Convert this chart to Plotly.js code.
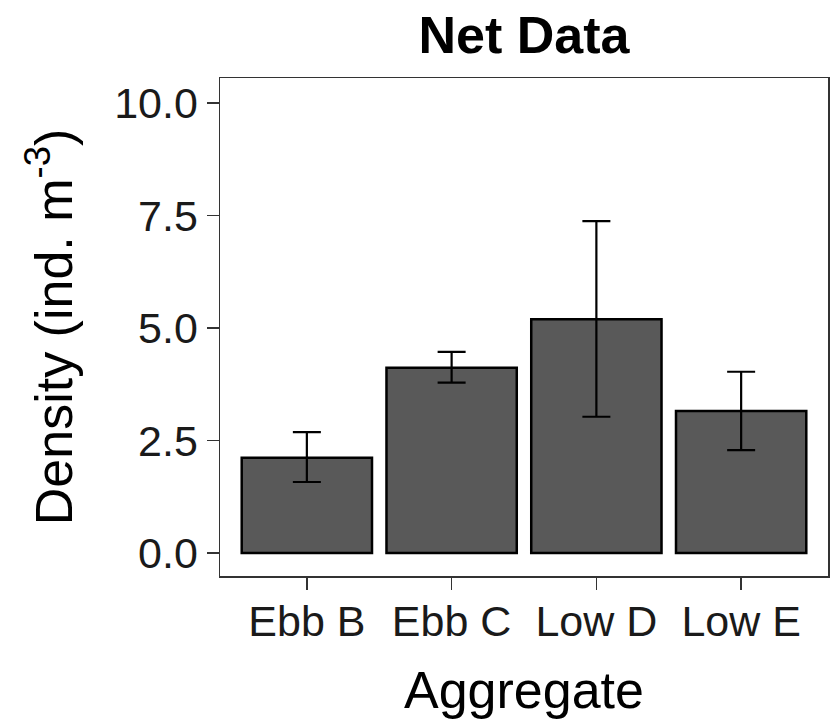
<!DOCTYPE html>
<html>
<head>
<meta charset="utf-8">
<script src="https://cdn.plot.ly/plotly-3.0.1.min.js"></script>
<style>html,body{margin:0;padding:0;background:#fff;}#chart{width:838px;height:721px;}</style>
</head>
<body>
<div id="chart"></div>
<script>
const categories = ["Ebb B", "Ebb C", "Low D", "Low E"];
const density = [2.12, 4.12, 5.2, 3.16];
const upper = [2.69, 4.47, 7.38, 4.03];
const lower = [1.58, 3.79, 3.03, 2.29];
const yTickVals = [0, 2.5, 5, 7.5, 10];
const yTickText = ["0.0", "2.5", "5.0", "7.5", "10.0"];

const font = "Liberation Sans, Arial, sans-serif";

const trace = {
  type: "bar",
  x: categories,
  y: density,
  width: 0.9,
  marker: { color: "#595959", line: { color: "#000000", width: 2.5 } },
  error_y: {
    type: "data",
    symmetric: false,
    array: density.map((d, i) => upper[i] - d),
    arrayminus: density.map((d, i) => d - lower[i]),
    color: "#000000",
    thickness: 2.2,
    width: 14
  },
  hoverinfo: "none"
};

const layout = {
  width: 838,
  height: 721,
  margin: { l: 220, r: 10, t: 78, b: 145 },
  paper_bgcolor: "#ffffff",
  plot_bgcolor: "#ffffff",
  showlegend: false,
  font: { family: font, color: "#000000" },
  title: {
    text: "<b>Net Data</b>",
    font: { family: font, size: 52, color: "#000000" },
    xref: "paper", x: 0.5, xanchor: "center",
    yref: "container", y: 1 - 35 / 721, yanchor: "middle"
  },
  xaxis: {
    type: "category",
    range: [-0.6, 3.6],
    showgrid: false,
    zeroline: false,
    showline: true,
    mirror: true,
    linecolor: "#333333",
    linewidth: 1.5,
    ticks: "outside",
    ticklen: 12,
    tickwidth: 1.5,
    tickcolor: "#333333",
    ticklabelstandoff: -5,
    tickfont: { family: font, size: 43, color: "#1a1a1a" },
    title: { text: "Aggregate", font: { family: font, size: 52, color: "#000000" }, standoff: 27 }
  },
  yaxis: {
    range: [-0.51, 10.56],
    tickvals: yTickVals,
    ticktext: yTickText,
    showgrid: false,
    zeroline: false,
    showline: true,
    mirror: true,
    linecolor: "#333333",
    linewidth: 1.5,
    ticks: "outside",
    ticklen: 12,
    tickwidth: 1.5,
    tickcolor: "#333333",
    tickfont: { family: font, size: 43, color: "#1a1a1a" },
    title: { text: "Density (ind. m<sup>-3</sup>)", font: { family: font, size: 52, color: "#000000" }, standoff: 25 }
  }
};

Plotly.newPlot("chart", [trace], layout, { staticPlot: true, displayModeBar: false });
</script>
</body>
</html>
